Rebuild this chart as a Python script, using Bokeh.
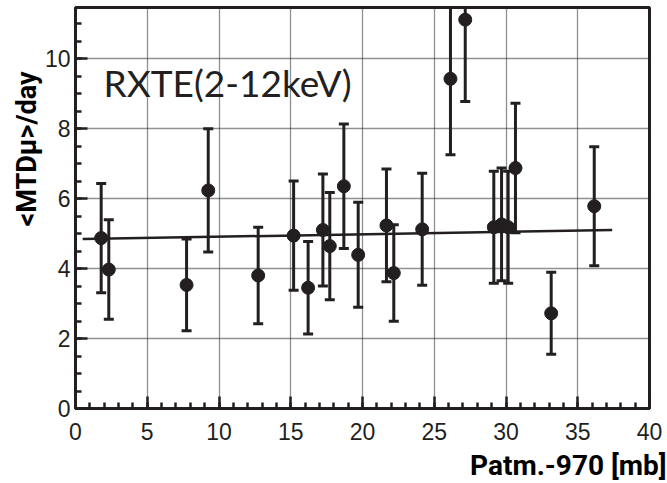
import numpy as np
from bokeh.plotting import figure
from bokeh.models import (Range1d, SingleIntervalTicker, Whisker, TeeHead,
                          ColumnDataSource, Label)
from bokeh.embed import file_html
from bokeh.resources import INLINE

# ---- data ----
x_vals = [1.79, 2.32, 7.74, 9.25, 12.73, 15.20, 16.21, 17.24, 17.72, 18.70, 19.70,
          21.67, 22.18, 24.16, 26.13, 27.16, 29.15, 29.69, 30.15, 30.66, 33.15, 36.15]
y_vals = [4.87, 3.97, 3.53, 6.23, 3.80, 4.94, 3.45, 5.10, 4.64, 6.35, 4.39,
          5.23, 3.87, 5.12, 9.42, 11.11, 5.18, 5.26, 5.18, 6.87, 2.72, 5.78]
y_err = [1.56, 1.42, 1.31, 1.76, 1.38, 1.56, 1.32, 1.60, 1.53, 1.78, 1.50,
         1.61, 1.38, 1.60, 2.17, 2.34, 1.60, 1.61, 1.60, 1.85, 1.17, 1.70]
fit_x = [0.5, 37.4]
fit_y = [4.84, 5.10]
x_tick_step = 5
y_tick_step = 2
title_text = "RXTE(2-12keV)"
ylabel_text = "<MTDμ>/day"
xlabel_text = "Patm.-970 [mb]"

# ---- layout ----
W, H = 667, 483
L, R, T, B = 75, 18, 7, 75
FW, FH = W - L - R, H - T - B
X0, X1 = 0, 40
Y0, Y1 = 0, FH / 35.0

INK = "#231f20"

p = figure(width=W, height=H, x_range=Range1d(X0, X1), y_range=Range1d(Y0, Y1),
           output_backend="svg", toolbar_location=None,
           min_border_left=L, min_border_right=R, min_border_top=T, min_border_bottom=B)
p.background_fill_color = "white"
p.border_fill_color = "white"
p.outline_line_color = INK
p.outline_line_width = 3
p.outline_line_alpha = 1.0

xt = SingleIntervalTicker(interval=x_tick_step, num_minor_ticks=5)
yt = SingleIntervalTicker(interval=y_tick_step, num_minor_ticks=4)
p.xaxis.ticker = xt
p.yaxis.ticker = yt
p.xgrid.ticker = xt
p.ygrid.ticker = yt

for g in (p.xgrid, p.ygrid):
    g.grid_line_color = "#222222"
    g.grid_line_dash = "1 1"
    g.grid_line_width = 1.3

for ax in (p.xaxis, p.yaxis):
    ax.axis_line_color = INK
    ax.axis_line_width = 3
    ax.major_tick_in = 12
    ax.major_tick_out = 0
    ax.minor_tick_in = 6
    ax.minor_tick_out = 0
    ax.major_tick_line_color = INK
    ax.minor_tick_line_color = INK
    ax.major_tick_line_width = 2.5
    ax.minor_tick_line_width = 2.5
    ax.major_label_text_font = "Liberation Sans"
    ax.major_label_text_font_size = "23px"
    ax.major_label_text_color = INK
p.xaxis.major_label_standoff = 14
p.yaxis.major_label_standoff = 5

# error bars
src = ColumnDataSource(dict(
    x=x_vals, y=y_vals,
    lo=[y - e for y, e in zip(y_vals, y_err)],
    hi=[y + e for y, e in zip(y_vals, y_err)]))
p.add_layout(Whisker(base="x", lower="lo", upper="hi", source=src,
                     line_color=INK, line_width=3,
                     upper_head=TeeHead(size=10, line_color=INK, line_width=3),
                     lower_head=TeeHead(size=10, line_color=INK, line_width=3)))

# fit line
p.line(fit_x, fit_y, line_color=INK, line_width=2.5)

# points
p.scatter("x", "y", source=src, size=13, fill_color=INK, line_color=INK)

def canvas_label(x, y, text, place="center", **kw):
    p.add_layout(Label(x=x, y=y, x_units="canvas", y_units="canvas", text=text,
                       text_baseline="alphabetic", **kw), place)

canvas_label(103, 82, title_text, text_font="Lato", text_font_size="37px",
             text_color=INK, text_align="left")
canvas_label(26.5, 148.5, ylabel_text, place="left", angle=np.pi / 2, text_font="Roboto",
             text_font_style="bold", text_font_size="27px", text_color="black",
             text_align="center")
canvas_label(666, 464.5, xlabel_text, place="below", text_font="Roboto",
             text_font_style="bold", text_font_size="28px", text_color="black",
             text_align="right")

open("out.html", "w").write(file_html(p, INLINE))
